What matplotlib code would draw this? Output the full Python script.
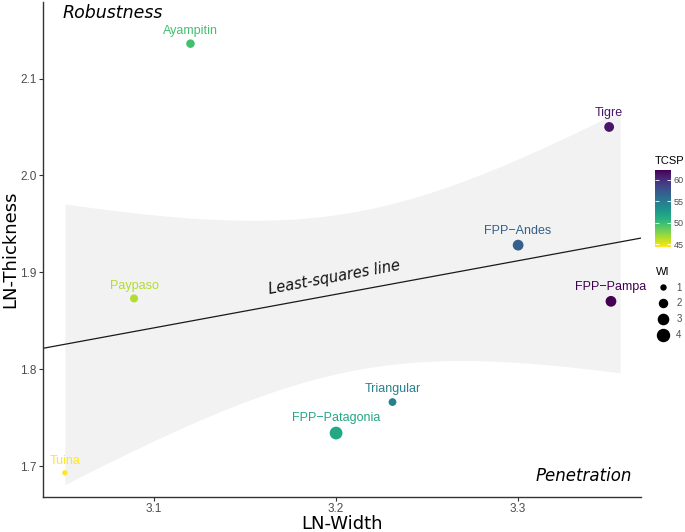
"""Projectile point shape: LN-Width vs LN-Thickness with least-squares fit."""

import matplotlib
import numpy as np

matplotlib.use("Agg")
import matplotlib.pyplot as plt  # noqa: E402
from matplotlib.colors import Normalize  # noqa: E402
from matplotlib.lines import Line2D  # noqa: E402

names = ["Ayampitin", "Tigre", "FPP\u2212Andes", "FPP\u2212Pampa", "Paypaso",
         "Triangular", "FPP\u2212Patagonia", "Tuina"]
ln_width = [3.120, 3.350, 3.300, 3.351, 3.089, 3.231, 3.200, 3.051]
ln_thickness = [2.136, 2.050, 1.928, 1.870, 1.873, 1.766, 1.734, 1.693]
tcsp = [49.7, 61.2, 56.9, 62.2, 46.5, 54.5, 51.5, 44.4]
wi = [2.2, 2.8, 3.3, 3.3, 2.0, 1.9, 4.5, 1.1]
wi_breaks = [1, 2, 3, 4]
tcsp_ticks = [45, 50, 55, 60]
smooth_span = [3.051, 3.356]
x_ticks = [3.1, 3.2, 3.3]
y_ticks = [1.7, 1.8, 1.9, 2.0, 2.1]

SANS = "Liberation Sans"
TICK_GREY = "#4d4d4d"


def marker_area(w):
    """Point area (pt^2), linear in WI like ggplot's scale_size."""
    return 12.96 + (np.asarray(w, dtype=float) - 1) * 20.55


x = np.asarray(ln_width)
y = np.asarray(ln_thickness)
slope, intercept = np.polyfit(x, y, 1)
n = len(x)
resid = y - (intercept + slope * x)
s = np.sqrt(np.sum(resid ** 2) / (n - 2))
sxx = np.sum((x - x.mean()) ** 2)
t_crit = 1.440  # t(0.90, df=6): 80% band

fig = plt.figure(figsize=(6.85, 5.32), dpi=100)
ax = fig.add_axes([43 / 685, 1 - 497 / 532, 598 / 685, 495 / 532])
ax.set_xlim(3.039, 3.3675)
ax.set_ylim(1.668, 2.179)

grid = np.linspace(*smooth_span, 200)
fit = intercept + slope * grid
half = t_crit * s * np.sqrt(1 / n + (grid - x.mean()) ** 2 / sxx)
ax.fill_between(grid, fit - half, fit + half, color="#f2f2f2", lw=0, zorder=1)

line_x = np.array(ax.get_xlim())
ax.plot(line_x, intercept + slope * line_x, color="#1a1a1a", lw=0.9, zorder=2)

norm = Normalize(min(tcsp), max(tcsp))
cmap = plt.get_cmap("viridis_r")
areas = marker_area(wi)
ax.scatter(x, y, s=areas, c=tcsp, cmap=cmap, norm=norm, lw=0, zorder=3)
for name, xi, yi, ci, ai in zip(names, x, y, tcsp, areas):
    ax.annotate(name, (xi, yi), xytext=(0, np.sqrt(ai) / 2 + 2),
                textcoords="offset points", ha="center", va="bottom",
                color=cmap(norm(ci)), fontsize=9, family=SANS, zorder=4)

ax.text(3.2, 1.887, "Least-squares line", rotation=10.5, ha="center",
        va="bottom", fontsize=10.5, style="italic", color="#111111",
        rotation_mode="anchor")
ax.text(0.032, 0.995, "Robustness", transform=ax.transAxes, style="italic",
        fontsize=12.5, ha="left", va="top")
ax.text(0.985, 0.024, "Penetration", transform=ax.transAxes, style="italic",
        fontsize=12, ha="right", va="bottom")

ax.set_xticks(x_ticks)
ax.set_yticks(y_ticks)
ax.set_xticklabels([f"{v:.1f}" for v in x_ticks], family=SANS)
ax.set_yticklabels([f"{v:.1f}" for v in y_ticks], family=SANS)
ax.tick_params(length=3, width=0.8, color="#333333", labelcolor=TICK_GREY,
               labelsize=8.5, pad=1.5)
for side in ("top", "right"):
    ax.spines[side].set_visible(False)
for side in ("left", "bottom"):
    ax.spines[side].set_color("#333333")
    ax.spines[side].set_linewidth(1.0)
ax.set_xlabel("LN-Width", fontsize=13, va="center")
ax.set_ylabel("LN-Thickness", fontsize=13, va="center")
ax.xaxis.set_label_coords(0.5, (497 - 524) / 495)
ax.yaxis.set_label_coords((10 - 43) / 598, 0.5)

# colour bar
cax = fig.add_axes([655 / 685, 1 - 247 / 532, 16 / 685, 77 / 532])
sm = plt.cm.ScalarMappable(norm=norm, cmap=cmap)
cb = fig.colorbar(sm, cax=cax, ticks=tcsp_ticks)
cb.outline.set_visible(False)
cax.tick_params(which="both", direction="in", length=3, width=0.6, color="white",
                left=True, right=True, labelsize=6.5, labelcolor=TICK_GREY, pad=2)
for lab in cax.get_yticklabels():
    lab.set_family(SANS)
cax.set_title("TCSP", fontsize=8, loc="left", pad=4, family=SANS)

# size legend
handles = [Line2D([], [], ls="", marker="o", color="black",
                  markersize=np.sqrt(marker_area(b))) for b in wi_breaks]
leg = fig.legend(handles, [str(b) for b in wi_breaks], title="WI",
                 loc="upper left", bbox_to_anchor=(649 / 685, 1 - 260 / 532),
                 frameon=False, fontsize=7, title_fontsize=8, labelspacing=0.6,
                 handletextpad=0.6, handlelength=1.5, borderpad=0.2)
leg._legend_box.align = "left"
for txt in leg.get_texts():
    txt.set_family(SANS)
    txt.set_color(TICK_GREY)
leg.get_title().set_family(SANS)

fig.savefig("out.png", dpi=100)
plt.close(fig)
